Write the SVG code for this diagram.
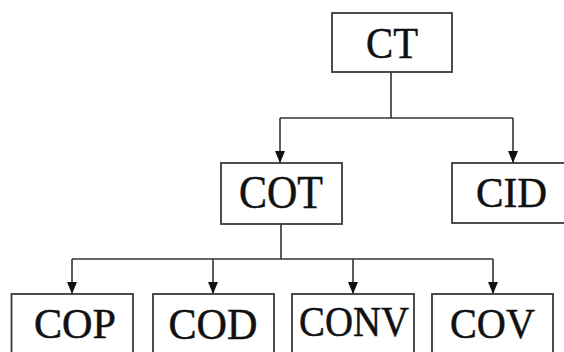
<svg xmlns="http://www.w3.org/2000/svg" width="564" height="352" viewBox="0 0 564 352">
<style>
.box{fill:#fff;stroke:#3a3a3a;stroke-width:1.8}
.lbl{font-family:"Liberation Serif","Times New Roman",serif;fill:#111;stroke:#111;stroke-width:0.5;text-anchor:middle}
.con{fill:none;stroke:#333;stroke-width:1.6}
</style>
<defs>
<marker id="ah" markerUnits="userSpaceOnUse" markerWidth="12" markerHeight="10" refX="12" refY="5" orient="auto" viewBox="0 0 12 10">
<path d="M0,0 L12,5 L0,10 z" fill="#111"/>
</marker>
</defs>
<rect width="564" height="352" fill="#fff"/>
<g id="connectors">
<path class="con" d="M391,72 V118"/>
<path class="con" d="M280,118 H513"/>
<path class="con" d="M280,118 V163" marker-end="url(#ah)"/>
<path class="con" d="M513,118 V163" marker-end="url(#ah)"/>
<path class="con" d="M281,224 V259"/>
<path class="con" d="M72,259 H493"/>
<path class="con" d="M72,259 V294" marker-end="url(#ah)"/>
<path class="con" d="M213,259 V294" marker-end="url(#ah)"/>
<path class="con" d="M353,259 V294" marker-end="url(#ah)"/>
<path class="con" d="M493,259 V294" marker-end="url(#ah)"/>
</g>
<g id="CT">
<rect class="box" x="332" y="13" width="120" height="59"/>
<text class="lbl" x="392" y="58" font-size="44" textLength="52" lengthAdjust="spacingAndGlyphs">CT</text>
</g>
<g id="COT">
<rect class="box" x="221" y="163" width="121" height="61"/>
<text class="lbl" x="281" y="208" font-size="46" textLength="84" lengthAdjust="spacingAndGlyphs">COT</text>
</g>
<g id="CID">
<rect class="box" x="452" y="163" width="130" height="60"/>
<text class="lbl" x="511.5" y="207" font-size="43" textLength="71" lengthAdjust="spacingAndGlyphs">CID</text>
</g>
<g id="COP">
<rect class="box" x="11.5" y="294" width="121.5" height="70"/>
<text class="lbl" x="75" y="338" font-size="42" textLength="82" lengthAdjust="spacingAndGlyphs">COP</text>
</g>
<g id="COD">
<rect class="box" x="153" y="294" width="121" height="70"/>
<text class="lbl" x="213" y="339" font-size="44" textLength="89" lengthAdjust="spacingAndGlyphs">COD</text>
</g>
<g id="CONV">
<rect class="box" x="292" y="294" width="122" height="70"/>
<text class="lbl" x="354" y="336" font-size="43" textLength="110" lengthAdjust="spacingAndGlyphs">CONV</text>
</g>
<g id="COV">
<rect class="box" x="432" y="294" width="121" height="70"/>
<text class="lbl" x="492.5" y="338" font-size="43" textLength="85" lengthAdjust="spacingAndGlyphs">COV</text>
</g>
</svg>
